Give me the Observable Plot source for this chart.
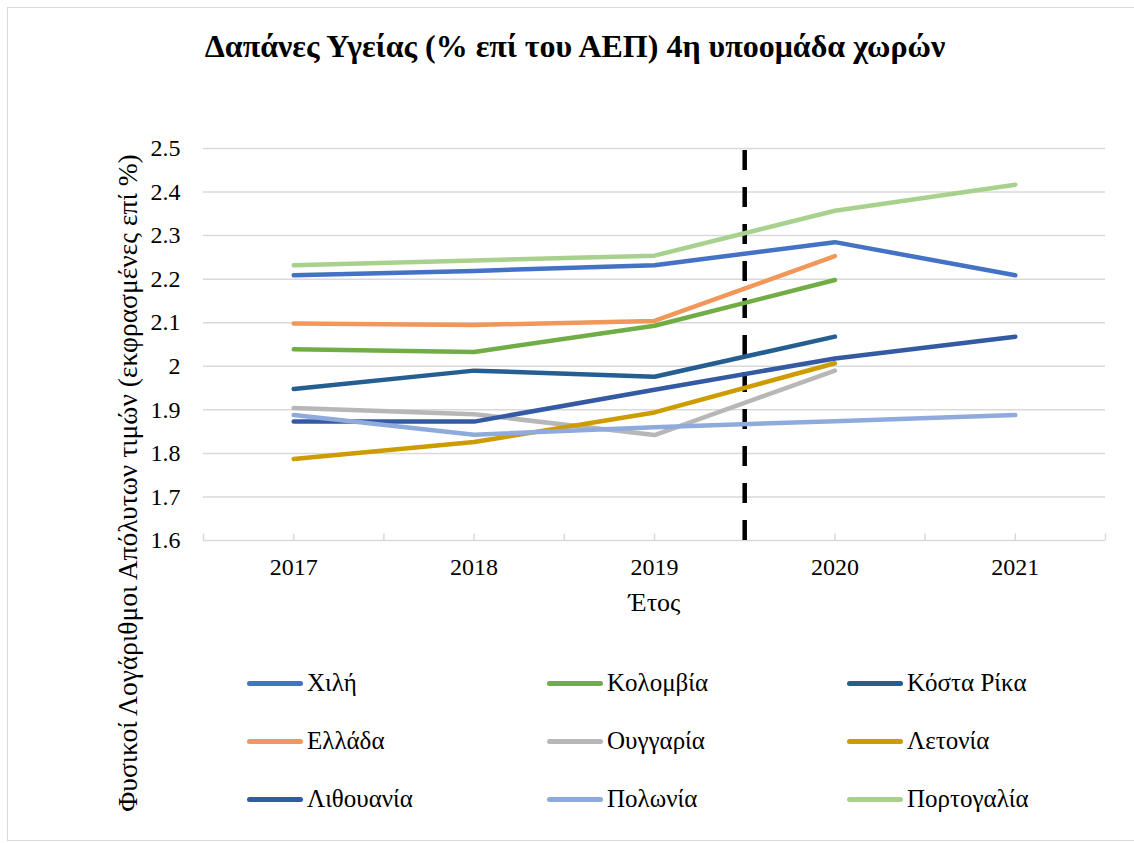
<!DOCTYPE html>
<html>
<head>
<meta charset="utf-8">
<script src="https://cdn.jsdelivr.net/npm/d3@7"></script>
<script src="https://cdn.jsdelivr.net/npm/@observablehq/plot@0.6"></script>
<style>
  html, body { margin: 0; padding: 0; background: #fff; }
  #wrap { position: relative; width: 1134px; height: 843px; overflow: hidden; font-family: 'Liberation Serif', serif; color: #000; }
  #frame { position: absolute; left: 7px; top: 7px; width: 1200px; height: 834px; border: 1.5px solid #d9d9d9; box-sizing: border-box; }
  #title { position: absolute; left: 0; width: 1150px; top: 28px; text-align: center; font-weight: bold; font-size: 32px; font-family: 'Liberation Serif', serif; }
  #plot { position: absolute; left: 0; top: 0; }
  #plot svg text { font-family: 'Liberation Serif', serif; }
  #ytitle { position: absolute; left: 128px; top: 483px; transform: translate(-50%, -50%) rotate(-90deg); white-space: nowrap; font-size: 27.5px; font-family: 'Liberation Serif', serif; }
  .leg { position: absolute; display: flex; align-items: center; font-size: 25px; font-family: 'Liberation Serif', serif; }
  .leg .sw { width: 56px; height: 5px; border-radius: 3px; margin-right: 4px; }
</style>
</head>
<body>
<div id="wrap">
  <div id="frame"></div>
  <div id="title">Δαπάνες Υγείας (% επί του ΑΕΠ) 4η υποομάδα χωρών</div>
  <div id="plot"></div>
  <div id="ytitle">Φυσικοί Λογάριθμοι Απόλυτων τιμών (εκφρασμένες επί %)</div>
  <div id="legend"></div>
</div>
<script>
const years = [2017, 2018, 2019, 2020, 2021];
const countries = ["Χιλή", "Κολομβία", "Κόστα Ρίκα", "Ελλάδα", "Ουγγαρία", "Λετονία", "Λιθουανία", "Πολωνία", "Πορτογαλία"];
const colors = ["#4472C4", "#70AD47", "#255E91", "#F1975A", "#B7B7B7", "#CC9C00", "#335AA2", "#8FAADC", "#A9D18E"];

const chile      = [2.209, 2.219, 2.232, 2.285, 2.209];
const colombia   = [2.039, 2.033, 2.093, 2.198, null];
const costaRica  = [1.948, 1.990, 1.976, 2.068, null];
const greece     = [2.098, 2.095, 2.104, 2.253, null];
const hungary    = [1.904, 1.890, 1.842, 1.990, null];
const latvia     = [1.787, 1.826, 1.894, 2.007, null];
const lithuania  = [1.873, 1.873, 1.946, 2.018, 2.068];
const poland     = [1.888, 1.843, 1.860, 1.874, 1.888];
const portugal   = [2.232, 2.243, 2.254, 2.357, 2.417];

const yTicks = [1.6, 1.7, 1.8, 1.9, 2.0, 2.1, 2.2, 2.3, 2.4, 2.5];
const xTitle = "Έτος";
const covidMark = 2019.5;
const seriesDrawOrder = [chile, colombia, costaRica, greece, hungary, latvia, lithuania, poland, portugal];

const rows = [];
seriesDrawOrder.forEach((vals, i) => {
  vals.forEach((v, j) => {
    if (v != null) rows.push({country: countries[i], year: years[j], value: v, order: i});
  });
});

// tick marks at category positions and boundaries
const tickPos = [];
years.forEach(y => { tickPos.push(y - 0.5, y); });
tickPos.push(years[years.length - 1] + 0.5);

const plot = Plot.plot({
  width: 1134,
  height: 640,
  marginTop: 148,
  marginBottom: 100,
  marginLeft: 203,
  marginRight: 29,
  style: { fontFamily: "'Liberation Serif', serif", fontSize: "24px", color: "#000", background: "transparent" },
  x: { domain: [2016.5, 2021.5] },
  y: { domain: [1.6, 2.5] },
  color: { domain: countries, range: colors },
  marks: [
    Plot.ruleY(yTicks, { stroke: "#d9d9d9", strokeWidth: 1.5 }),
    Plot.ruleX(tickPos, { y1: 1.6, y2: 1.615, stroke: "#d9d9d9", strokeWidth: 1.5 }),
    Plot.axisY({ ticks: yTicks, tickSize: 0, tickPadding: 23, tickFormat: d => String(d), label: null, fontSize: 24 }),
    Plot.axisX({ ticks: years, tickSize: 0, tickPadding: 17, tickFormat: d => String(d), label: null, fontSize: 24 }),
    Plot.text([xTitle], { frameAnchor: "bottom", dy: 70, fontSize: 26, fill: "#000" }),
    Plot.ruleX([covidMark], { y1: 1.6, y2: 2.5, stroke: "#000", strokeWidth: 4.5, strokeDasharray: "20,17" }),
    Plot.line(rows, { x: "year", y: "value", z: "country", stroke: "country", strokeWidth: 4.5, strokeLinecap: "round", strokeLinejoin: "round" })
  ]
});
document.getElementById("plot").appendChild(plot);

// legend
const legend = document.getElementById("legend");
const colX = [247, 547, 847];
const rowY = [683, 741, 799];
countries.forEach((c, i) => {
  const el = document.createElement("div");
  el.className = "leg";
  el.style.left = colX[i % 3] + "px";
  el.style.top = (rowY[Math.floor(i / 3)] - 15) + "px";
  el.style.height = "30px";
  const sw = document.createElement("div");
  sw.className = "sw";
  sw.style.background = colors[i];
  const t = document.createElement("span");
  t.textContent = c;
  el.appendChild(sw);
  el.appendChild(t);
  legend.appendChild(el);
});
</script>
</body>
</html>
